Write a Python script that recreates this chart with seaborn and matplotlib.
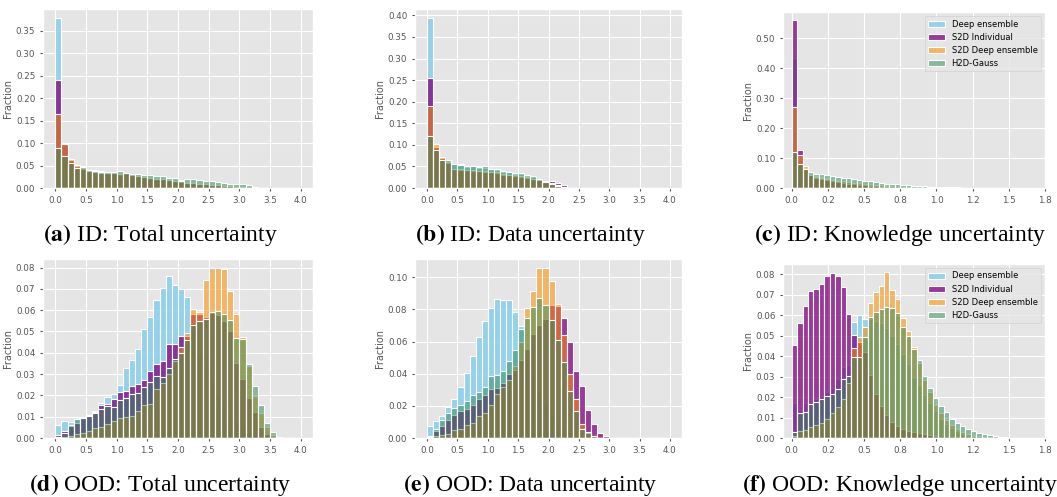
import numpy as np
import pandas as pd
import matplotlib
matplotlib.use("Agg")
import matplotlib.pyplot as plt
from matplotlib.ticker import FormatStrFormatter, MultipleLocator
import seaborn as sns

plt.style.use("ggplot")
plt.rcParams["mathtext.fontset"] = "stix"

methods = ["Deep ensemble", "S2D Individual", "S2D Deep ensemble", "H2D-Gauss"]
colors = ["skyblue", "purple", "darkorange", "seagreen"]
alphas = [0.85, 0.75, 0.55, 0.5]

# (a) ID: total uncertainty, 40 bins on [0, 4]
a_de = [.38, .095, .062, .047, .043, .039, .041, .037, .034, .033, .030, .032, .028, .027, .024, .022, .019, .019, .016, .015,
        .013, .012, .011, .010, .008, .007, .006, .005, .004, .003, .002, .001, .0005, 0, 0, 0, 0, 0, 0, 0]
a_s2di = [.24, .10, .063, .049, .043, .038, .035, .038, .034, .033, .031, .033, .028, .027, .025, .022, .019, .019, .017, .015,
          .013, .012, .011, .010, .008, .007, .006, .005, .004, .003, .002, .001, .0005, 0, 0, 0, 0, 0, 0, 0]
a_s2dde = [.165, .097, .065, .052, .045, .039, .036, .034, .034, .033, .031, .033, .028, .027, .025, .023, .019, .019, .017, .016,
           .017, .012, .011, .010, .008, .007, .006, .005, .004, .003, .002, .001, .0005, 0, 0, 0, 0, 0, 0, 0]
a_h2d = [.09, .072, .056, .045, .047, .040, .039, .036, .036, .035, .038, .034, .032, .031, .029, .028, .026, .026, .023, .022,
         .016, .020, .019, .018, .015, .015, .014, .012, .009, .010, .008, .006, .003, .001, 0, 0, 0, 0, 0, 0]

# (b) ID: data uncertainty, 40 bins on [0, 4]
b_de = [.395, .092, .068, .060, .055, .055, .049, .050, .046, .047, .043, .041, .038, .036, .033, .032, .028, .026, .020, .013,
        .009, .004, .001, 0, 0, 0, 0, 0, 0, 0, 0, 0, 0, 0, 0, 0, 0, 0, 0, 0]
b_s2di = [.255, .095, .069, .058, .045, .042, .041, .040, .039, .037, .036, .034, .031, .029, .028, .026, .024, .022, .020, .017,
          .016, .012, .006, .001, 0, 0, 0, 0, 0, 0, 0, 0, 0, 0, 0, 0, 0, 0, 0, 0]
b_s2dde = [.19, .101, .072, .060, .045, .043, .042, .041, .040, .040, .038, .036, .033, .031, .030, .028, .025, .022, .019, .014,
           .011, .006, .002, 0, 0, 0, 0, 0, 0, 0, 0, 0, 0, 0, 0, 0, 0, 0, 0, 0]
b_h2d = [.12, .089, .066, .065, .056, .054, .051, .052, .049, .050, .045, .044, .040, .038, .035, .034, .029, .027, .022, .015,
         .010, .004, .001, 0, 0, 0, 0, 0, 0, 0, 0, 0, 0, 0, 0, 0, 0, 0, 0, 0]

# (c) ID: knowledge uncertainty, 40 bins on [0, 1.5]
c_de = [.435, .095, .065, .045, .040, .036, .032, .029, .026, .022, .020, .018, .015, .013, .011, .010, .008, .007, .006, .005,
        .004, .003, .003, .002, .002, .001, .001, .0005, .0005, 0, 0, 0, 0, 0, 0, 0, 0, 0, 0, 0]
c_s2di = [.56, .127, .068, .042, .033, .029, .026, .022, .019, .016, .014, .012, .010, .009, .007, .006, .005, .004, .003, .003,
          .002, .002, .001, .001, .001, .0005, 0, 0, 0, 0, 0, 0, 0, 0, 0, 0, 0, 0, 0, 0]
c_s2dde = [.27, .11, .072, .045, .038, .034, .030, .027, .025, .022, .020, .018, .016, .014, .012, .011, .009, .008, .007, .006,
           .005, .004, .003, .003, .002, .002, .001, .001, .0005, 0, 0, 0, 0, 0, 0, 0, 0, 0, 0, 0]
c_h2d = [.12, .08, .064, .054, .048, .047, .042, .039, .037, .033, .032, .030, .026, .025, .022, .019, .017, .015, .014, .013,
         .011, .010, .008, .007, .006, .005, .004, .0035, .003, .0025, .002, .0015, .001, .001, .0005, 0, 0, 0, 0, 0]

# (d) OOD: total uncertainty, 40 bins on [0, 4]
d_de = [.006, .0078, .0075, .009, .0093, .011, .0125, .0163, .0193, .0208, .025, .0328, .0365, .042, .051, .057, .0648, .0705, .076, .0718,
        .070, .066, .05, .04, .033, .027, .021, .016, .011, .008, .005, .003, .002, .001, 0, 0, 0, 0, 0, 0]
d_s2di = [.0015, .0032, .0055, .007, .0093, .011, .012, .0155, .016, .0185, .0215, .022, .0245, .0255, .027, .0315, .0345, .036, .044, .044,
          .048, .048, .058, .058, .057, .0585, .0575, .055, .05, .035, .0275, .019, .012, .005, .002, .0005, 0, 0, 0, 0]
d_s2dde = [.0005, .0005, .001, .002, .0025, .0035, .0045, .005, .0065, .008, .0095, .010, .0105, .0125, .0155, .016, .023, .026, .030, .036,
           .0425, .0495, .0605, .059, .074, .080, .080, .0795, .069, .058, .0475, .034, .0195, .0115, .005, .0015, 0, 0, 0, 0]
d_h2d = [.0003, .0025, .006, .009, .0093, .0105, .0115, .0135, .015, .0145, .018, .019, .0205, .021, .024, .0265, .029, .0285, .033, .037,
         .040, .046, .053, .055, .056, .059, .0595, .058, .0555, .047, .0465, .0345, .0245, .0155, .007, .003, .0005, 0, 0, 0]

# (e) OOD: data uncertainty, 40 bins on [0, 4]
e_de = [.0075, .0105, .0135, .019, .0245, .0315, .0405, .051, .0625, .0725, .081, .0865, .086, .086, .0785, .0695, .05, .04, .03, .022,
        .015, .01, .006, .004, .002, .001, 0, 0, 0, 0, 0, 0, 0, 0, 0, 0, 0, 0, 0, 0]
e_s2di = [.0015, .0045, .0075, .011, .0145, .0165, .018, .0205, .024, .0265, .0305, .031, .034, .040, .042, .0485, .0555, .0645, .070, .074,
          .0825, .082, .0745, .0595, .0415, .0325, .0175, .009, .003, .001, 0, 0, 0, 0, 0, 0, 0, 0, 0, 0]
e_s2dde = [.0002, .001, .002, .0025, .005, .0055, .008, .0095, .0135, .0155, .0205, .0275, .032, .036, .045, .060, .081, .0915, .106, .1055,
           .0975, .0835, .064, .040, .024, .0085, .003, .001, 0, 0, 0, 0, 0, 0, 0, 0, 0, 0, 0, 0]
e_h2d = [.0005, .0055, .011, .0155, .0185, .0205, .023, .0265, .0285, .0315, .0385, .039, .0415, .048, .055, .068, .0745, .0815, .087, .0825,
         .0735, .061, .0475, .0295, .0165, .0055, .004, .001, 0, 0, 0, 0, 0, 0, 0, 0, 0, 0, 0, 0]

# (f) OOD: knowledge uncertainty, 40 bins on [0, 1.5]
f_de = [.017, .0135, .017, .0175, .019, .0205, .0225, .0245, .029, .0345, .0357, .0565, .060, .058, .058, .057, .056, .054, .05, .046,
        .041, .036, .03, .026, .021, .017, .013, .0095, .007, .005, .0035, .002, .001, 0, 0, 0, 0, 0, 0, 0]
f_s2di = [.0455, .056, .0646, .072, .0728, .0755, .079, .0808, .079, .0738, .0604, .0503, .047, .042, .031, .0215, .0155, .011, .008, .006,
          .0045, .0035, .003, .0025, .002, .0015, .001, 0, 0, 0, 0, 0, 0, 0, 0, 0, 0, 0, 0, 0]
f_s2dde = [.001, .0035, .004, .0055, .0065, .0075, .0095, .012, .015, .019, .0268, .0438, .0495, .0545, .066, .0715, .0745, .081, .0725, .068,
           .0585, .0525, .0445, .0365, .0285, .0225, .016, .012, .009, .0065, .0045, .003, .002, .0012, .0008, .0005, .0003, .0002, 0, 0]
f_h2d = [.003, .012, .0125, .0165, .0175, .019, .0205, .0215, .024, .029, .0304, .0395, .0395, .0495, .059, .0615, .063, .064, .0635, .061,
         .0545, .05, .0435, .038, .0305, .0245, .0195, .0155, .0125, .0095, .0075, .006, .0045, .0035, .0025, .002, .0015, .001, .0007, .0004]

captions = [r"$\mathbf{(a)}$ ID: Total uncertainty", r"$\mathbf{(b)}$ ID: Data uncertainty",
            r"$\mathbf{(c)}$ ID: Knowledge uncertainty", r"$\mathbf{(d)}$ OOD: Total uncertainty",
            r"$\mathbf{(e)}$ OOD: Data uncertainty", r"$\mathbf{(f)}$ OOD: Knowledge uncertainty"]

W, H = 1057, 497
fig = plt.figure(figsize=(W / 100, H / 100), dpi=100)


def add_ax(left, right, top, bottom):
    return fig.add_axes([left / W, 1 - bottom / H, (right - left) / W, (bottom - top) / H])


def panel(ax, series, upper, ystep, legend=False):
    centers = (np.arange(40) + 0.5) * upper / 40
    for name, vals, col, alp in zip(methods, series, colors, alphas):
        df = pd.DataFrame({"value": centers, "fraction": vals})
        sns.histplot(data=df, x="value", weights="fraction", bins=40, binrange=(0, upper), color=col,
                     alpha=alp, edgecolor="white", linewidth=0.8, label=name, ax=ax)
    ax.set_xlabel("")
    ax.set_ylabel("Fraction", fontsize=7, color="#555555", labelpad=2)
    if upper < 2:
        ax.set_xticks(np.arange(0, 1.8, 0.25))
        ax.set_xlim(-0.06, 1.75)
    else:
        ax.xaxis.set_major_locator(MultipleLocator(0.5))
    ax.yaxis.set_major_locator(MultipleLocator(ystep))
    ax.xaxis.set_major_formatter(FormatStrFormatter("%.1f"))
    ax.yaxis.set_major_formatter(FormatStrFormatter("%.2f"))
    ax.tick_params(labelsize=6.3, length=2, colors="#555555")
    if legend:
        ax.legend(loc="upper right", fontsize=6)


ax_a = add_ax(43, 313, 9, 188)
panel(ax_a, [a_de, a_s2di, a_s2dde, a_h2d], 4, 0.05)
ax_b = add_ax(415, 682, 9, 188)
panel(ax_b, [b_de, b_s2di, b_s2dde, b_h2d], 4, 0.05)
ax_c = add_ax(783, 1045, 12, 188)
panel(ax_c, [c_de, c_s2di, c_s2dde, c_h2d], 1.5, 0.1, legend=True)
ax_d = add_ax(43, 313, 259, 438)
panel(ax_d, [d_de, d_s2di, d_s2dde, d_h2d], 4, 0.01)
ax_e = add_ax(415, 682, 259, 438)
panel(ax_e, [e_de, e_s2di, e_s2dde, e_h2d], 4, 0.02)
ax_f = add_ax(783, 1045, 264, 438)
panel(ax_f, [f_de, f_s2di, f_s2dde, f_h2d], 1.5, 0.01, legend=True)

cap_x = [160, 530, 900]
cap_y = [241, 491]
for i, cap in enumerate(captions):
    fig.text(cap_x[i % 3] / W, 1 - cap_y[i // 3] / H, cap, ha="center", va="baseline",
             fontsize=17, family="Liberation Serif", color="black")

fig.savefig("out.png", dpi=100)
